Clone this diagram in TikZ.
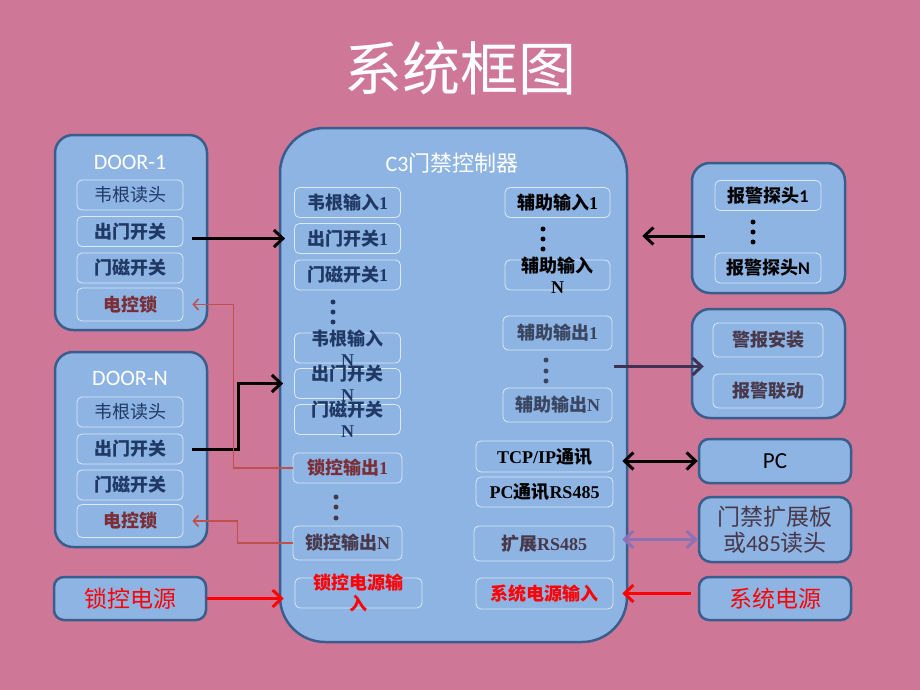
\documentclass[tikz,border=0pt]{standalone}
\usepackage{fontspec}
\setmainfont{Carlito}
\newfontfamily\cjk{Noto Sans CJK SC}
\newfontfamily\tnr{Liberation Serif}
\usetikzlibrary{arrows.meta}
\definecolor{bgpink}{HTML}{CF7797}
\definecolor{boxfill}{HTML}{8EB4E3}
\definecolor{boxline}{HTML}{3A5E8C}
\definecolor{cellline}{HTML}{DCE8F6}
\definecolor{navy}{HTML}{1F3864}
\definecolor{lockred}{HTML}{7A2E36}
\definecolor{plum}{HTML}{47384A}
\definecolor{slate}{HTML}{3A4560}
\definecolor{wirered}{HTML}{C0504D}
\definecolor{extpurple}{HTML}{8B72B5}
\definecolor{outpurple}{HTML}{3F3151}
\newcommand\zh[1]{{\cjk #1}}
\newcommand\tm[1]{{\tnr #1}}
\tikzset{outer/.style={draw=boxline, line width=2.5pt, fill=boxfill, rounded corners=18pt}}
\tikzset{cell/.style={draw=cellline, line width=0.8pt, fill=boxfill, rounded corners=5pt,
   inner sep=0pt, minimum height=30pt, text=navy,
   font=\bfseries\fontsize{18}{20}\selectfont}}
\tikzset{dcell/.style={cell, minimum width=106pt}}
\tikzset{lightface/.style={font=\fontsize{18}{20}\selectfont}}
\tikzset{spill/.style={align=center, inner sep=0pt, font=\bfseries\fontsize{18}{21}\selectfont}}
\tikzset{boxtitle/.style={text=white, font=\fontsize{22}{26}\selectfont}}
\tikzset{bigtext/.style={font=\fontsize{23}{26}\selectfont, align=center}}
\tikzset{link/.style={line width=3pt, -{Straight Barb[length=9pt,width=17pt]}}}
\tikzset{linkp/.style={link, outpurple}}
\tikzset{power/.style={link, red}}
\tikzset{both/.style={line width=3pt, {Straight Barb[length=9pt,width=17pt]}-{Straight Barb[length=9pt,width=17pt]}}}
\tikzset{wire/.style={wirered, line width=1.6pt, -{Straight Barb[length=5pt,width=11pt]}}}

\begin{document}
\begin{tikzpicture}[x=1pt,y=-1pt]

    \useasboundingbox[fill=bgpink] (0,0) rectangle (920,690);

    \node[text=white, font=\fontsize{58}{64}\selectfont] (title) at (460,68) {\zh{系统框图}};

    % doors
    \node[outer, minimum width=152pt, minimum height=195pt] (door1) at (131,232.5) {};
    \node[boxtitle] (door1-name) at (130,162) {DOOR-1};
    \node[dcell, lightface] (d1-reader) at (130,195) {\zh{韦根读头}};
    \node[dcell] (d1-exit) at (130,231.5) {\zh{出门开关}};
    \node[dcell] (d1-contact) at (130,268) {\zh{门磁开关}};
    \node[dcell, minimum height=33pt, text=lockred] (d1-lock) at (130,304.5) {\zh{电控锁}};

    \node[outer, minimum width=152pt, minimum height=195pt] (doorN) at (131,449.5) {};
    \node[boxtitle] (doorN-name) at (130,378) {DOOR-N};
    \node[dcell, lightface] (dN-reader) at (130,412) {\zh{韦根读头}};
    \node[dcell] (dN-exit) at (130,449) {\zh{出门开关}};
    \node[dcell] (dN-contact) at (130,485) {\zh{门磁开关}};
    \node[dcell, minimum height=33pt, text=lockred] (dN-lock) at (130,521) {\zh{电控锁}};

    \node[outer, minimum width=152pt, minimum height=43pt, rounded corners=10pt,
          bigtext, text=red] (lockpwr) at (130,598.5) {\zh{锁控电源}};

    % controller
    \node[outer, rounded corners=45pt, minimum width=347pt, minimum height=514pt] (ctrl) at (453.5,385) {};
    \node[boxtitle] (ctrl-name) at (452,163) {C3\zh{门禁控制器}};

    \node[dcell] (cin-w1) at (347.5,202.5) {\zh{韦根输入}\tm{1}};
    \node[dcell] (cin-e1) at (347.5,238.5) {\zh{出门开关}\tm{1}};
    \node[dcell] (cin-c1) at (347.5,275) {\zh{门磁开关}\tm{1}};
    \node[dcell, label={[spill, text=navy]center:{\zh{韦根输入}\\\tm{N}}}] (cin-wN) at (347.5,348) {};
    \node[dcell, label={[spill, text=navy]center:{\zh{出门开关}\\\tm{N}}}] (cin-eN) at (347.5,383.5) {};
    \node[dcell, label={[spill, text=navy]center:{\zh{门磁开关}\\\tm{N}}}] (cin-cN) at (347.5,419.5) {};
    \node[cell, minimum width=109pt, text=lockred] (lock-o1) at (347.5,468) {\zh{锁控输出}\tm{1}};
    \node[cell, minimum width=109pt, minimum height=34pt, text=plum] (lock-oN) at (347.5,543) {\zh{锁控输出}\tm{N}};
    \node[cell, minimum width=127pt, label={[spill, text=red]center:{\zh{锁控电源输}\\\zh{入}}}] (lock-pin) at (358.5,593) {};

    \node[cell, minimum width=105pt, text=black] (aux-i1) at (557.5,202.5) {\zh{辅助输入}\tm{1}};
    \node[cell, minimum width=105pt, label={[spill, text=black]center:{\zh{辅助输入}\\\tm{N}}}] (aux-iN) at (557.5,275) {};
    \node[cell, minimum width=109pt, minimum height=34pt, text=slate] (aux-o1) at (557.5,333) {\zh{辅助输出}\tm{1}};
    \node[cell, minimum width=109pt, minimum height=34pt, text=slate] (aux-oN) at (557.5,405) {\zh{辅助输出}\tm{N}};
    \node[cell, minimum width=137pt, minimum height=31pt, text=black] (tcp) at (544.5,456.5) {\tm{TCP/IP}\zh{通讯}};
    \node[cell, minimum width=137pt, text=black] (pc485) at (544.5,492) {\tm{PC}\zh{通讯}\tm{RS485}};
    \node[cell, minimum width=140pt, minimum height=35pt, text=plum] (ext485) at (544,543.5) {\zh{扩展}\tm{RS485}};
    \node[cell, minimum width=137pt, minimum height=31pt, text=red] (sys-pin) at (544.5,593.5) {\zh{系统电源输入}};

    \foreach \y in {302,312,322} \fill[navy] (333,\y) circle (2.5);
    \foreach \y in {497,507,518} \fill[plum] (336,\y) circle (2.5);
    \foreach \y in {229,239,249} \fill[black] (543,\y) circle (2.5);
    \foreach \y in {360,371,381} \fill[slate] (546,\y) circle (2.5);

    % right side
    \node[outer, minimum width=153pt, minimum height=130pt] (alin) at (768.5,228) {};
    \node[dcell, text=black] (alarm-1) at (768,195.5) {\zh{报警探头}1};
    \node[dcell, text=black] (alarm-N) at (768,268) {\zh{报警探头}N};
    \foreach \y in {222,232,242} \fill[black] (753,\y) circle (2.5);

    \node[outer, minimum width=153pt, minimum height=109pt] (alout) at (768.5,363.5) {};
    \node[cell, minimum width=110pt, minimum height=34pt, text=plum] (siren) at (768,340) {\zh{警报安装}};
    \node[cell, minimum width=110pt, minimum height=34pt, text=plum] (linkage) at (768,391) {\zh{报警联动}};

    \node[outer, minimum width=152pt, minimum height=44pt, rounded corners=10pt,
          bigtext, text=black] (pc) at (775,461) {PC};
    \node[outer, minimum width=152pt, minimum height=65pt, rounded corners=12pt,
          bigtext, text=plum, font=\fontsize{23}{26}\selectfont] (ext) at (775,529.5) {\zh{门禁扩展板}\\\zh{或}485\zh{读头}};
    \node[outer, minimum width=152pt, minimum height=43pt, rounded corners=10pt,
          bigtext, text=red] (syspwr) at (775,598.5) {\zh{系统电源}};

    % connectors
    \draw[link, shorten <=9pt, shorten >=9pt] (d1-exit.east |- cin-e1) -- (cin-e1.west);
    \draw[link, shorten <=9pt, shorten >=11pt] (dN-exit.east) -- ++(55,0) |- (cin-eN.west);
    \draw[wire, shorten >=9pt] (lock-o1.west) -- ++(-59,0) |- (d1-lock.east);
    \draw[wire, shorten >=9pt] (lock-oN.west) -- ++(-55,0) |- (dN-lock.east);
    \draw[power, shorten >=-5pt] (lockpwr.east) -- (lockpwr.east -| ctrl.west);

    \draw[link, shorten <=-14pt, shorten >=14pt] ([yshift=-8pt]alin.west) -- ([yshift=-8pt]alin.west -| ctrl.east);
    \draw[linkp, shorten <=-14pt, shorten >=-13pt] ([yshift=-3pt]alout.west -| ctrl.east) -- ([yshift=-3pt]alout.west);
    \draw[both, shorten <=-6pt] (pc.west -| ctrl.east) -- (pc.west);
    \draw[both, extpurple, shorten <=-6pt] ([yshift=-10pt]ext.west -| ctrl.east) -- ([yshift=-10pt]ext.west);
    \draw[power, shorten <=7pt, shorten >=-6pt] (sys-pin.east -| syspwr.west) -- (sys-pin.east -| ctrl.east);

\end{tikzpicture}
\end{document}
